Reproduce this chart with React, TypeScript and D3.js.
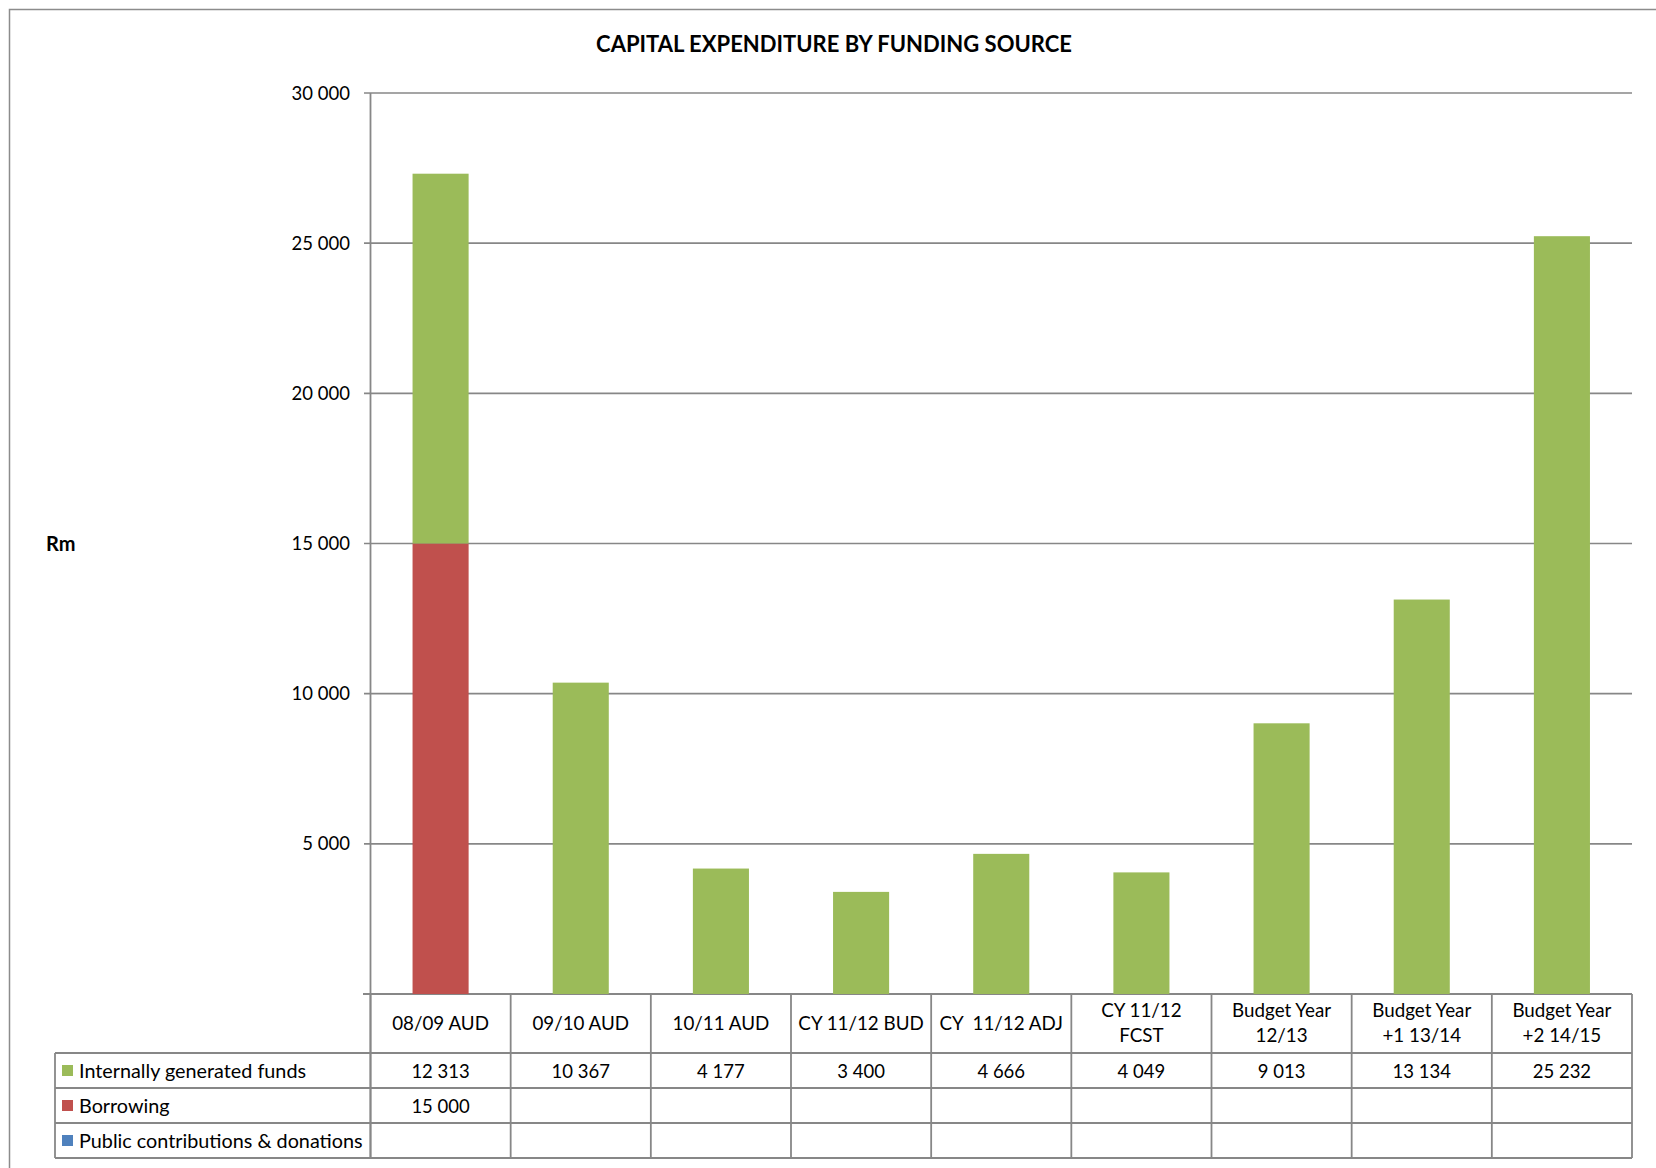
import React, { useEffect } from "react";
import * as d3 from "d3";

const categories = [
  "08/09 AUD",
  "09/10 AUD",
  "10/11 AUD",
  "CY 11/12 BUD",
  "CY  11/12 ADJ",
  "CY 11/12\nFCST",
  "Budget Year\n12/13",
  "Budget Year\n+1 13/14",
  "Budget Year\n+2 14/15",
];
const internalFunds: (number | null)[] = [12313, 10367, 4177, 3400, 4666, 4049, 9013, 13134, 25232];
const borrowing: (number | null)[] = [15000, null, null, null, null, null, null, null, null];
const publicContrib: (number | null)[] = [null, null, null, null, null, null, null, null, null];
const yTicks = [5000, 10000, 15000, 20000, 25000, 30000];

const seriesNames = ["Internally generated funds", "Borrowing", "Public contributions & donations"];
const seriesColors = ["#9BBB59", "#C0504D", "#4F81BD"];

const FONT = "Lato, 'Open Sans', sans-serif";
const GRID = "#878787";

const fmt = (v: number) => d3.format(",")(v).replace(/,/g, " ");

export default function App() {
  useEffect(() => {
    document.body.style.margin = "0";
  }, []);

  const W = 1656;
  const H = 1168;
  const plotLeft = 370.5;
  const plotRight = 1632;
  const plotTop = 93;
  const plotBottom = 994;

  const y = d3.scaleLinear().domain([0, 30000]).range([plotBottom, plotTop]);
  const x = d3
    .scaleBand<string>()
    .domain(categories)
    .range([plotLeft, plotRight])
    .paddingInner(0.6)
    .paddingOuter(0.3);
  const step = x.step();

  const rows = categories.map((c, i) => ({
    cat: c,
    borrowing: borrowing[i] ?? 0,
    internal: internalFunds[i] ?? 0,
    pub: publicContrib[i] ?? 0,
  }));
  const stack = d3.stack<any>().keys(["borrowing", "internal", "pub"]);
  const stacked = stack(rows);
  const keyColor: Record<string, string> = {
    borrowing: seriesColors[1],
    internal: seriesColors[0],
    pub: seriesColors[2],
  };

  const colEdges = d3.range(categories.length + 1).map((i) => plotLeft + i * step);
  const headerBottom = 1053;
  const rowH = 35;
  const tableLeft = 55;
  const rowTops = [headerBottom, headerBottom + rowH, headerBottom + 2 * rowH];
  const tableBottom = headerBottom + 3 * rowH;
  const seriesData = [internalFunds, borrowing, publicContrib];

  return (
    <svg width={W} height={H} style={{ display: "block", background: "#fff" }}>
      <rect x={9.5} y={9.5} width={1700} height={1200} fill="#fff" stroke="#8c8c8c" strokeWidth={1.5} />
      <text
        x={834}
        y={52}
        textAnchor="middle"
        fontFamily={FONT}
        fontWeight="bold"
        fontSize={22}
        fill="#000"
      >
        CAPITAL EXPENDITURE BY FUNDING SOURCE
      </text>
      <text x={46} y={551} fontFamily={FONT} fontWeight="bold" fontSize={20} fill="#000">
        Rm
      </text>

      {yTicks.map((t) => (
        <g key={t}>
          <line x1={364} x2={plotRight} y1={y(t)} y2={y(t)} stroke={GRID} strokeWidth={1.6} />
          <text x={350} y={y(t) + 6.5} textAnchor="end" fontFamily={FONT} fontSize={18.5} fill="#000">
            {fmt(t)}
          </text>
        </g>
      ))}
      <line x1={363} x2={plotRight} y1={y(0)} y2={y(0)} stroke={GRID} strokeWidth={1.8} />
      <line x1={plotLeft} x2={plotLeft} y1={plotTop} y2={tableBottom} stroke={GRID} strokeWidth={1.8} />

      {stacked.map((layer) =>
        layer.map((d, i) =>
          d[1] - d[0] > 0 ? (
            <rect
              key={layer.key + i}
              x={x(categories[i])}
              width={x.bandwidth()}
              y={y(d[1])}
              height={y(d[0]) - y(d[1])}
              fill={keyColor[layer.key]}
            />
          ) : null
        )
      )}

      {colEdges.map((cx, i) => (
        <line key={"v" + i} x1={cx} x2={cx} y1={plotBottom} y2={tableBottom} stroke={GRID} strokeWidth={1.8} />
      ))}
      <line x1={tableLeft} x2={tableLeft} y1={headerBottom} y2={tableBottom} stroke={GRID} strokeWidth={1.8} />
      {[headerBottom, headerBottom + rowH, headerBottom + 2 * rowH, tableBottom].map((ly, i) => (
        <line key={"h" + i} x1={tableLeft} x2={plotRight} y1={ly} y2={ly} stroke={GRID} strokeWidth={1.8} />
      ))}

      {categories.map((c, i) => {
        const lines = c.split("\n");
        const cx = (colEdges[i] + colEdges[i + 1]) / 2;
        const ys = lines.length === 1 ? [1030] : [1017, 1042];
        return (
          <text key={"c" + i} textAnchor="middle" fontFamily={FONT} fontSize={18.8} fill="#000" style={{ whiteSpace: "pre" }}>
            {lines.map((l, j) => (
              <tspan key={j} x={cx} y={ys[j]}>
                {l}
              </tspan>
            ))}
          </text>
        );
      })}

      {seriesNames.map((name, r) => (
        <g key={name}>
          <rect x={62} y={rowTops[r] + 12} width={11} height={11} fill={seriesColors[r]} />
          <text x={79} y={rowTops[r] + 24.5} fontFamily={FONT} fontSize={19.8} fill="#000">
            {name}
          </text>
          {seriesData[r].map((v, i) =>
            v != null ? (
              <text
                key={i}
                x={(colEdges[i] + colEdges[i + 1]) / 2}
                y={rowTops[r] + 24.5}
                textAnchor="middle"
                fontFamily={FONT}
                fontSize={18.5}
                fill="#000"
              >
                {fmt(v)}
              </text>
            ) : null
          )}
        </g>
      ))}
    </svg>
  );
}
